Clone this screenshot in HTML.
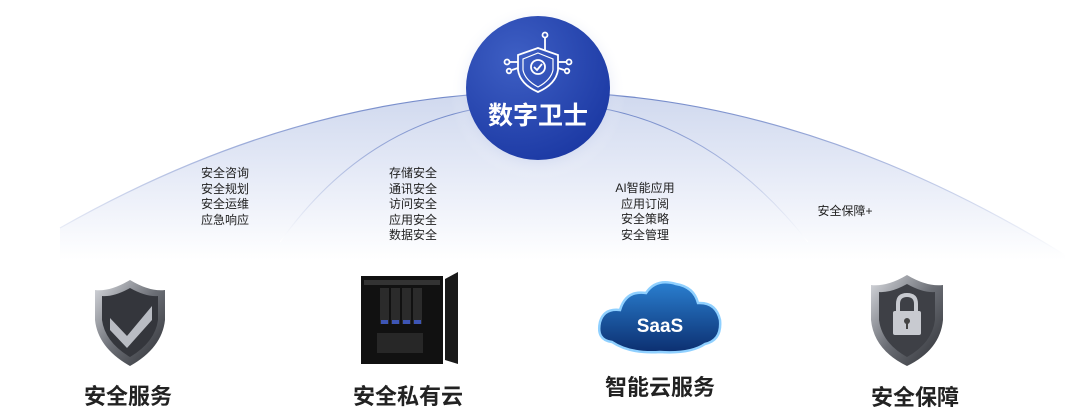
<!DOCTYPE html>
<html><head><meta charset="utf-8"><style>
html,body{margin:0;padding:0;background:#fff;}
body{width:1080px;height:413px;position:relative;overflow:hidden;font-family:"Liberation Sans","Noto Sans CJK SC",sans-serif;}
.t{position:absolute;font-size:12px;line-height:15.5px;color:#222;text-align:center;}
.l{position:absolute;font-size:22px;font-weight:bold;color:#222;text-align:center;width:200px;}
</style></head><body>
<svg width="1080" height="413" style="position:absolute;left:0;top:0">
<defs>
<linearGradient id="bg" x1="0" y1="0" x2="0" y2="1">
<stop offset="0" stop-color="#cfd8ee"/><stop offset="0.55" stop-color="#e9edf8"/><stop offset="1" stop-color="#ffffff"/>
</linearGradient>
<linearGradient id="ln" x1="0" y1="0" x2="0" y2="1">
<stop offset="0" stop-color="#6f86c8"/><stop offset="1" stop-color="#ffffff"/>
</linearGradient>
<radialGradient id="cg" cx="0.35" cy="0.3" r="0.8">
<stop offset="0" stop-color="#3e5fc4"/><stop offset="1" stop-color="#1a37a2"/>
</radialGradient>
<radialGradient id="glow" cx="0.5" cy="0.5" r="0.5">
<stop offset="0.6" stop-color="#9fb0e0" stop-opacity="0.6"/><stop offset="1" stop-color="#fff" stop-opacity="0"/>
</radialGradient>
<linearGradient id="sh" x1="0" y1="0" x2="1" y2="1">
<stop offset="0" stop-color="#d9dbe0"/><stop offset="0.5" stop-color="#6b6e75"/><stop offset="1" stop-color="#2c2e33"/>
</linearGradient>
<linearGradient id="cl" x1="0" y1="0" x2="0" y2="1">
<stop offset="0" stop-color="#2a7fd0"/><stop offset="1" stop-color="#0c2f70"/>
</linearGradient>
</defs>
<path d="M60 228 Q300 92 540 92 Q800 92 1065 255 L1065 260 L60 260 Z" fill="url(#bg)"/>
<path d="M60 228 Q300 92 540 92 Q800 92 1065 255" fill="none" stroke="url(#ln)" stroke-width="1.2"/>
<path d="M280 242 Q360 130 480 108" fill="none" stroke="url(#ln)" stroke-width="1"/>
<path d="M600 108 Q720 130 808 242" fill="none" stroke="url(#ln)" stroke-width="1"/>
<line x1="533" y1="160" x2="533" y2="250" stroke="url(#ln)" stroke-width="1"/>
<circle cx="538" cy="92" r="88" fill="url(#glow)"/>
<circle cx="538" cy="88" r="72" fill="url(#cg)"/>
<g fill="none" stroke="#fff" stroke-width="1.8">
<path d="M538 48 L558 55 L558 70 Q556 84 538 92 Q520 84 518 70 L518 55 Z"/>
<path d="M538 53 L553 59 L553 70 Q551 80 538 87 Q525 80 523 70 L523 59 Z" stroke-width="1.2"/>
<circle cx="538" cy="67" r="7"/>
<path d="M534 67 L537 70 L542 64"/>
<line x1="545" y1="50" x2="545" y2="38"/><circle cx="545" cy="35" r="2.5"/>
<path d="M518 62 L510 62"/><circle cx="507" cy="62" r="2.5"/>
<path d="M518 68 L512 70"/><circle cx="509" cy="71" r="2.3"/>
<path d="M558 62 L566 62"/><circle cx="569" cy="62" r="2.5"/>
<path d="M558 68 L564 70"/><circle cx="567" cy="71" r="2.3"/>
</g>
<text x="538" y="124" text-anchor="middle" fill="#fff" font-size="25" font-weight="bold" font-family="Liberation Sans, Noto Sans CJK SC, sans-serif">数字卫士</text>
<path d="M130 280 Q150 292 165 290 L165 320 Q162 348 130 366 Q98 348 95 320 L95 290 Q110 292 130 280 Z" fill="url(#sh)"/>
<path d="M130 288 Q146 297 158 296 L158 320 Q155 342 130 357 Q105 342 102 320 L102 296 Q114 297 130 288 Z" fill="#34363c"/>
<path d="M110 318 L127 336 L152 306 L152 320 L127 348 L110 330 Z" fill="#b9bcc3"/>
<rect x="361" y="276" width="82" height="88" fill="#111"/>
<rect x="364" y="280" width="76" height="5" fill="#333"/>
<g fill="#2b2b2b"><rect x="380" y="288" width="9" height="36"/><rect x="391" y="288" width="9" height="36"/><rect x="402" y="288" width="9" height="36"/><rect x="413" y="288" width="9" height="36"/></g>
<g fill="#3d55b5"><rect x="381" y="320" width="7" height="4"/><rect x="392" y="320" width="7" height="4"/><rect x="403" y="320" width="7" height="4"/><rect x="414" y="320" width="7" height="4"/></g>
<rect x="377" y="333" width="46" height="20" fill="#272727"/>
<path d="M445 279 L458 272 L458 364 L445 360 Z" fill="#1a1a1a"/>
<path d="M612 342 Q596 340 600 322 Q604 308 620 310 Q626 290 646 293 Q656 278 676 284 Q694 287 698 303 Q716 302 720 320 Q722 340 705 344 Q690 354 660 352 Q630 354 612 342 Z" fill="url(#cl)" stroke="#8fd0ff" stroke-width="2.5"/>
<text x="660" y="332" text-anchor="middle" fill="#fff" font-size="19" font-weight="bold" font-family="Liberation Sans, sans-serif">SaaS</text>
<path d="M907 275 Q927 287 943 285 L943 320 Q940 350 907 366 Q874 350 871 320 L871 285 Q887 287 907 275 Z" fill="url(#sh)"/>
<path d="M907 284 Q923 293 935 292 L935 320 Q932 343 907 357 Q882 343 879 320 L879 292 Q891 293 907 284 Z" fill="#3e4046"/>
<path d="M898 312 L898 304 Q898 295 907 295 Q916 295 916 304 L916 312" fill="none" stroke="#c8cad0" stroke-width="4"/>
<rect x="893" y="311" width="28" height="24" rx="2" fill="#c8cad0"/>
<circle cx="907" cy="321" r="3" fill="#444"/><rect x="906" y="322" width="2" height="7" fill="#444"/>
</svg>
<div class="t" style="left:185px;top:166px;width:80px">安全咨询<br>安全规划<br>安全运维<br>应急响应</div>
<div class="t" style="left:373px;top:166px;width:80px">存储安全<br>通讯安全<br>访问安全<br>应用安全<br>数据安全</div>
<div class="t" style="left:600px;top:181px;width:90px">AI智能应用<br>应用订阅<br>安全策略<br>安全管理</div>
<div class="t" style="left:800px;top:204px;width:90px">安全保障+</div>
<div class="l" style="left:28px;top:379px">安全服务</div>
<div class="l" style="left:308px;top:379px">安全私有云</div>
<div class="l" style="left:560px;top:370px">智能云服务</div>
<div class="l" style="left:815px;top:380px">安全保障</div>
</body></html>
